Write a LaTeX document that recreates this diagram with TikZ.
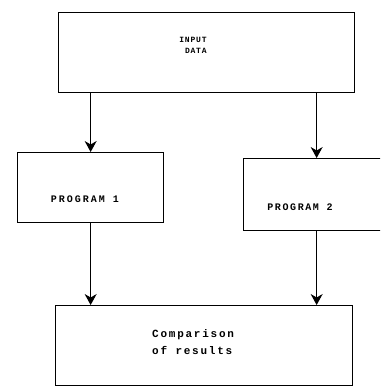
\documentclass[tikz,border=0pt]{standalone}
\usepackage{fontspec}
\setmonofont{Liberation Mono}
\usetikzlibrary{arrows.meta}
\tikzset{
  box/.style={draw, line width=1.3pt, inner sep=0pt, anchor=north west},
  arr/.style={line width=1.1pt, -{Stealth[length=11pt,width=12pt,inset=3.5pt]}},
  lbl/.style={inner sep=0pt, font=\ttfamily, align=left}
}
\begin{document}
\begin{tikzpicture}[x=1pt,y=-1pt]
\useasboundingbox (0,0) rectangle (380,390);
\clip (0,0) rectangle (380,390);
\node[box, minimum width=296pt, minimum height=80pt] (in) at (58,12) {};
\node[box, minimum width=146pt, minimum height=70pt] (p1) at (17,152) {};
\node[box, minimum width=146pt, minimum height=72pt] (p2) at (243,158) {};
\node[box, minimum width=297pt, minimum height=80pt] (cmp) at (55,305) {};
\node[lbl, font=\ttfamily\bfseries\fontsize{8}{9}\selectfont\addfontfeature{LetterSpace=10}, align=center] (tin) at (193,45) {INPUT\\[2pt]\ DATA};
\node[lbl, font=\ttfamily\bfseries\fontsize{10}{12}\selectfont\addfontfeature{LetterSpace=20}] (tp1) at (85,199) {PROGRAM 1};
\node[lbl, font=\ttfamily\bfseries\fontsize{10}{12}\selectfont\addfontfeature{LetterSpace=16}] (tp2) at (300,207) {PROGRAM 2};
\node[lbl, anchor=west, font=\ttfamily\bfseries\fontsize{11}{17}\selectfont\addfontfeature{LetterSpace=16}] (tcmp) at (152,342) {Comparison\\of results};
\draw[arr] (in.south -| p1.north) -- (p1.north);
\draw[arr] (in.south -| p2.north) -- (p2.north);
\draw[arr] (p1.south) -- (p1.south |- cmp.north);
\draw[arr] (p2.south) -- (p2.south |- cmp.north);
\end{tikzpicture}
\end{document}
